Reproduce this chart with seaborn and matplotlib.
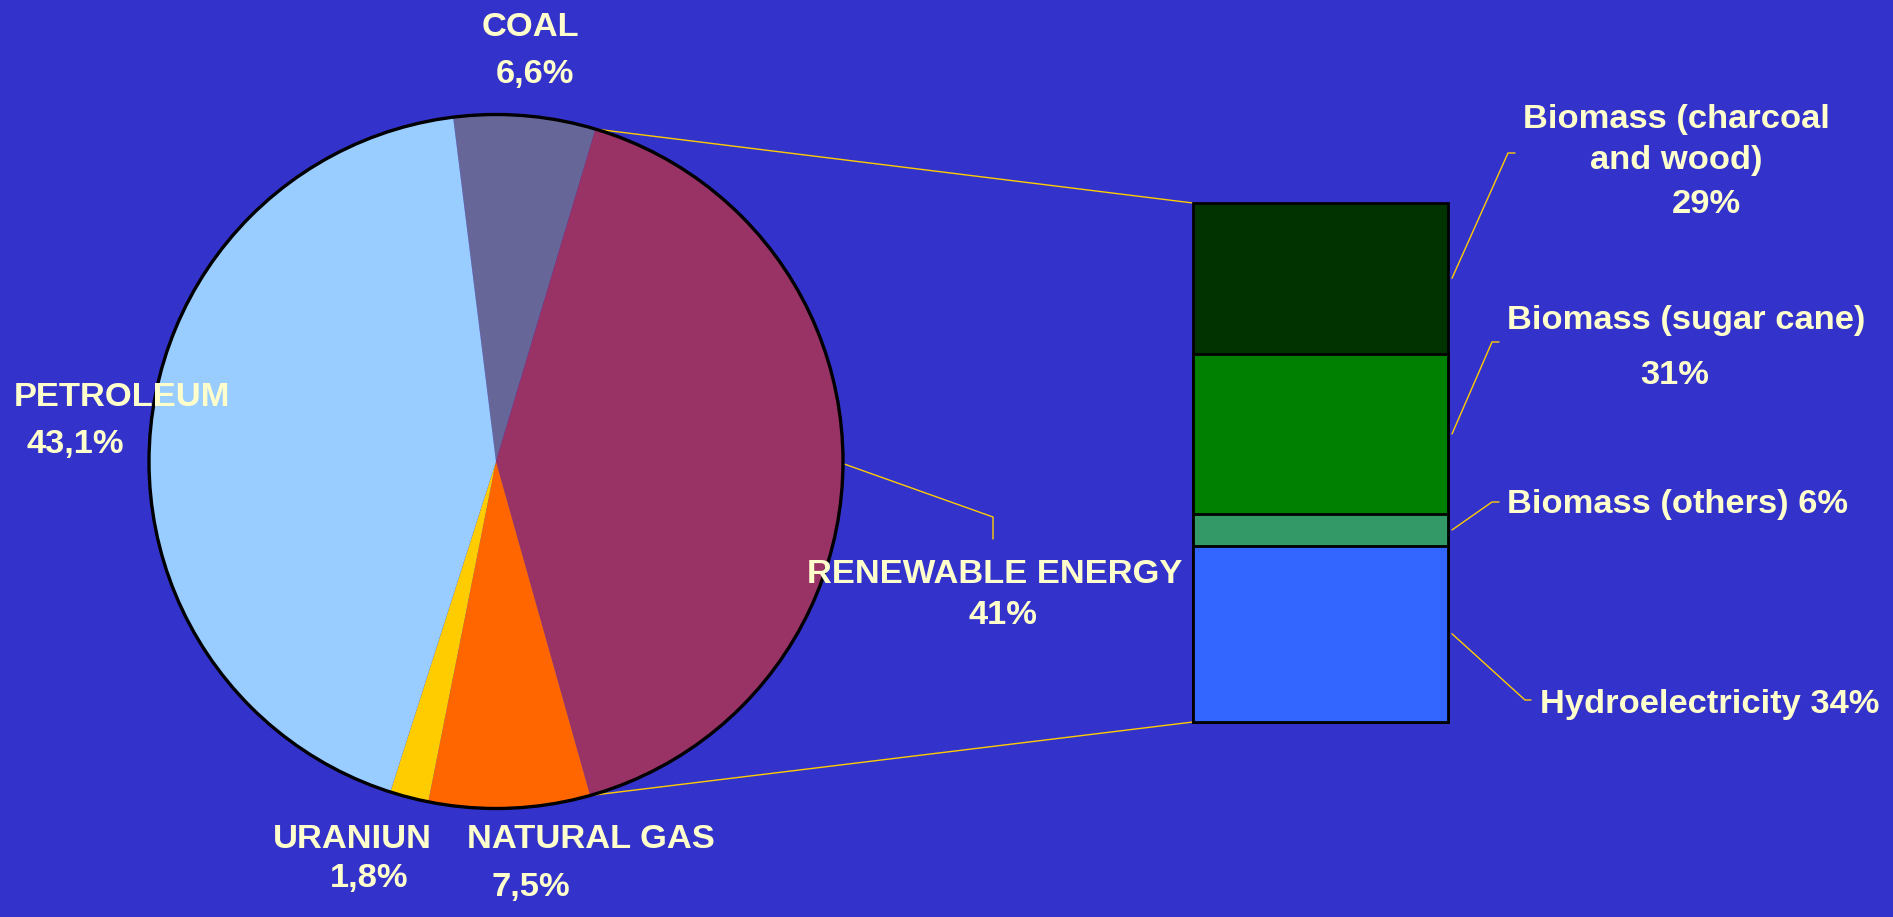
import numpy as np
import pandas as pd
import matplotlib
matplotlib.use("Agg")
import matplotlib.pyplot as plt
import matplotlib.patches as mpatches
import seaborn as sns

# ---------------- data ----------------
pie_labels = ["COAL", "RENEWABLE ENERGY", "NATURAL GAS", "URANIUN", "PETROLEUM"]
pie_values = [6.6, 41.0, 7.5, 1.8, 43.1]
pie_value_text = ["6,6%", "41%", "7,5%", "1,8%", "43,1%"]
pie_colors = ["#666699", "#993366", "#FF6600", "#FFCC00", "#99CCFF"]

bar_segments = ["Hydroelectricity", "Biomass (others)", "Biomass (sugar cane)", "Biomass (charcoal and wood)"]
bar_values = [34, 6, 31, 29]
bar_colors = ["#3366FF", "#339966", "#008000", "#003300"]

BG = "#3333CC"
TXT = "#FFFFCC"
LEAD = "#FFCC00"
W, H = 1893, 917

sns.set_style("white")
plt.rcParams["font.family"] = ["Liberation Sans", "DejaVu Sans"]

fig = plt.figure(figsize=(W / 100, H / 100), dpi=100)
fig.patch.set_facecolor(BG)
ax = fig.add_axes([0, 0, 1, 1])
ax.set_facecolor(BG)

# ---------------- pie ----------------
center = (496, H - 461.5)
radius = 347
wedges, _ = ax.pie(pie_values, colors=pie_colors, startangle=97.1, counterclock=False,
                   center=center, radius=radius, wedgeprops=dict(linewidth=0))
ax.add_patch(mpatches.Circle(center, radius, fill=False, ec="black", lw=2.4, zorder=3))
ax.set_xlim(0, W)
ax.set_ylim(0, H)
ax.set_aspect("equal")
ax.axis("off")

# ---------------- stacked bar (seaborn) ----------------
bx0, bx1, by0, by1 = 1193, 1448, 203, 722
bar_ax = fig.add_axes([bx0 / W, (H - by1) / H, (bx1 - bx0) / W, (by1 - by0) / H])
cum = np.cumsum(bar_values)
df = pd.DataFrame({"grp": ["R"] * len(bar_segments), "seg": bar_segments, "cum": cum})
order = list(df.sort_values("cum", ascending=False)["seg"])
sns.barplot(data=df, x="grp", y="cum", hue="seg", hue_order=order, dodge=False,
            palette=dict(zip(bar_segments, bar_colors)), saturation=1, width=1,
            edgecolor="black", linewidth=2, errorbar=None, legend=False, ax=bar_ax)
for p in bar_ax.patches:
    p.set_clip_on(False)
bar_ax.set_xlim(-0.5, 0.5)
bar_ax.set_ylim(0, cum[-1])
bar_ax.axis("off")


def to_main(trans, pt):
    return ax.transData.inverted().transform(trans.transform(pt))


# ---------------- connection lines pie -> bar ----------------
ren = wedges[1]
for th, corner in [(ren.theta2, (0, 1)), (ren.theta1, (0, 0))]:
    px = center[0] + radius * np.cos(np.radians(th))
    py = center[1] + radius * np.sin(np.radians(th))
    cx, cy = to_main(bar_ax.transAxes, corner)
    ax.plot([px, cx], [py, cy], color=LEAD, lw=1, zorder=1)

# renewable leader
mid = np.radians((ren.theta1 + ren.theta2) / 2)
sx = center[0] + (radius + 2) * np.cos(mid)
sy = center[1] + (radius + 2) * np.sin(mid)
ax.plot([sx, 993, 993], [sy, H - 517, H - 539], color=LEAD, lw=1, zorder=1)

# bar leaders (elbow points in pixel layout)
elbows = {
    "Biomass (charcoal and wood)": [(1508, 153), (1515, 153)],
    "Biomass (sugar cane)": [(1492, 342), (1499, 342)],
    "Biomass (others)": [(1492, 502), (1499, 502)],
    "Hydroelectricity": [(1525, 700), (1531, 700)],
}
bottoms = np.concatenate([[0], cum[:-1]])
for seg, b, v in zip(bar_segments, bottoms, bar_values):
    x0, y0 = to_main(bar_ax.transData, (0.5, b + v / 2))
    pts = [(x0 + 4, y0)] + [(x, H - y) for x, y in elbows[seg]]
    ax.plot([p[0] for p in pts], [p[1] for p in pts], color=LEAD, lw=1, zorder=1)

# ---------------- texts ----------------
FS = 24.8


def t(x, y, s, ha="center"):
    ax.text(x, H - y, s, ha=ha, va="baseline", color=TXT, fontsize=FS, fontweight="bold", zorder=5)


t(530, 36, pie_labels[0]); t(535, 83, pie_value_text[0])
t(14, 406, pie_labels[4], ha="left"); t(75, 453, pie_value_text[4])
t(352, 848, pie_labels[3]); t(369, 887, pie_value_text[3])
t(591, 848, pie_labels[2]); t(531, 896, pie_value_text[2])
t(995, 583, pie_labels[1]); t(1003, 624, pie_value_text[1])

t(1676, 128, "Biomass (charcoal")
t(1676, 169, "and wood)")
t(1706, 213, f"{bar_values[3]}%")
t(1507, 329, bar_segments[2], ha="left")
t(1675, 384, f"{bar_values[2]}%")
t(1507, 513, f"{bar_segments[1]} {bar_values[1]}%", ha="left")
t(1540, 713, f"{bar_segments[0]} {bar_values[0]}%", ha="left")

fig.savefig("out.png", dpi=100, facecolor=BG)
